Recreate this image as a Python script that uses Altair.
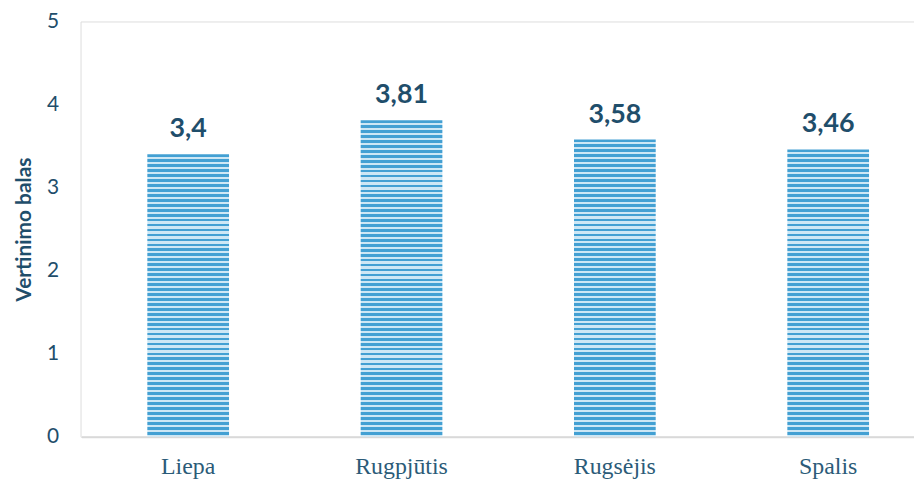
import altair as alt
import pandas as pd

months = ["Liepa", "Rugpjūtis", "Rugsėjis", "Spalis"]
scores = [3.4, 3.81, 3.58, 3.46]
labels = ["3,4", "3,81", "3,58", "3,46"]

df = pd.DataFrame({"month": months, "score": scores, "label": labels})

W, H = 839, 418
YMAX = 5
BLUE = "#43a0d3"
LIGHT = "#cde7f5"
PERIOD = 5.0

x_enc = alt.X("month:N", sort=months,
              scale=alt.Scale(range=[1, 860], paddingInner=0.617, paddingOuter=0.3085),
              axis=alt.Axis(title=None))
y_enc = alt.Y("score:Q", scale=alt.Scale(domain=[0, YMAX], nice=False),
              axis=alt.Axis(title="Vertinimo balas", values=[0, 1, 2, 3, 4, 5], format="d"))


def stripes(n):
    stops = []
    for i in range(n):
        a = i / n
        b = (i + 0.55) / n
        c = (i + 1) / n
        stops += [
            alt.GradientStop(offset=a, color=BLUE),
            alt.GradientStop(offset=b, color=BLUE),
            alt.GradientStop(offset=b, color=LIGHT),
            alt.GradientStop(offset=c, color=LIGHT),
        ]
    return alt.LinearGradient(gradient="linear", stops=stops, x1=0, y1=0, x2=0, y2=1)


layers = []
for m, s in zip(months, scores):
    n = max(1, round(s / YMAX * H / PERIOD))
    layers.append(
        alt.Chart(df).transform_filter(alt.datum.month == m)
        .mark_bar(color=stripes(n))
        .encode(x=x_enc, y=y_enc)
    )

text = alt.Chart(df).mark_text(baseline="alphabetic", dy=-17, font="Lato", fontSize=27,
                               fontWeight="bold", color="#1f4e6b").encode(
    x=alt.X("month:N", sort=months), y="score:Q", text="label:N")

chart = alt.layer(*layers, text).properties(
    width=W, height=H, autosize="none",
    padding={"left": 73, "top": 12, "right": 0, "bottom": 46},
).configure_view(stroke=None).configure(background="white").configure_axisX(
    labelAngle=0, ticks=False, domainColor="#d9d9d9", domainWidth=2,
    labelFont="Liberation Serif", labelFontSize=24, labelColor="#2b5b78", labelPadding=18,
    grid=False,
).configure_axisY(
    grid=False, ticks=False, domain=False,
    labelFont="Lato", labelFontSize=21, labelColor="#1f4e6b", labelPadding=22,
    titleFont="Lato", titleFontSize=21, titleFontWeight="bold", titleColor="#1f4e6b",
    titlePadding=12,
)

chart.save("out.html", embed_options={"renderer": "svg", "actions": False})
